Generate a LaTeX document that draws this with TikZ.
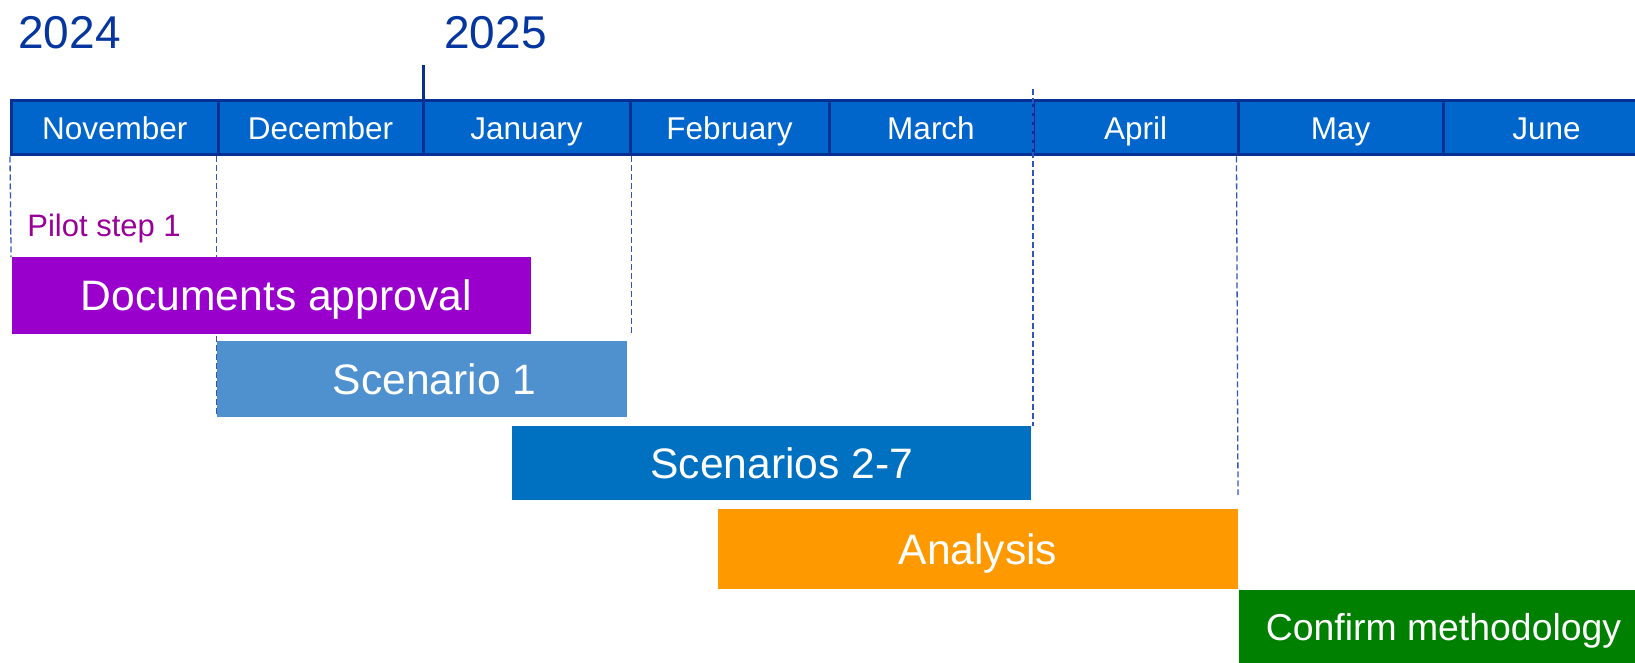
\documentclass[tikz,border=0pt]{standalone}
\usepackage{fontspec}
\setmainfont{Liberation Sans}
\definecolor{navy}{HTML}{063192}
\definecolor{yearblue}{HTML}{0536A0}
\definecolor{mfill}{HTML}{0066CC}
\definecolor{dashblue}{HTML}{3355BB}
\definecolor{docpurple}{HTML}{9900CC}
\definecolor{scone}{HTML}{4F91CF}
\definecolor{sctwo}{HTML}{0070C0}
\definecolor{anorange}{HTML}{FF9900}
\definecolor{cmgreen}{HTML}{008000}
\definecolor{pilotcol}{HTML}{990099}
\begin{document}
\begin{tikzpicture}[x=0.5pt,y=-0.5pt,
  month/.style={draw=navy, line width=1.5pt, fill=mfill, text=white,
    font=\fontsize{15.75}{18}\selectfont, minimum height=27pt, inner sep=0pt,
    text height=11.3pt, text depth=0pt},
  bar/.style={text=white, inner sep=0pt, font=\fontsize{21.3}{25}\selectfont,
    text height=15.2pt, text depth=0pt},
  yearlabel/.style={text=yearblue, inner sep=0pt, font=\fontsize{23}{27}\selectfont},
  dashline/.style={draw=dashblue, line width=0.65pt, dash pattern=on 3pt off 1.5pt},
]
\useasboundingbox (0,0) rectangle (1635,663);

% years
\node[yearlabel, anchor=base west] (y2024) at (18,49) {2024};
\node[yearlabel, anchor=base west] (y2025) at (444,49) {2025};

% months
\node[month, minimum width=103.25pt] (nov) at (114.75,128) {November};
\node[month, minimum width=102.5pt] (dec) at (320.5,128) {December};
\node[month, minimum width=103.5pt] (jan) at (526.5,128) {January};
\node[month, minimum width=99.5pt] (feb) at (729.5,128) {February};
\node[month, minimum width=102pt] (mar) at (931,128) {March};
\node[month, minimum width=102.5pt] (apr) at (1135.5,128) {April};
\node[month, minimum width=102.5pt] (may) at (1340.5,128) {May};
\node[month, minimum width=103.5pt] (jun) at (1546.5,128) {June};

% year tick
\coordinate (yeartick) at (423,65);
\draw[navy, line width=1.5pt] (yeartick) -- (yeartick |- jan.north);

% pilot label
\node[text=pilotcol, inner sep=0pt, font=\fontsize{15.5}{18}\selectfont, anchor=base west] (pilot) at (27,237) {Pilot step 1};

% guide coordinates
\coordinate (aprtop) at (1033,89);
\coordinate (mayend) at (1238,495);

% bar placeholders for guide lines
\path (271.25,295.75) node[bar, minimum width=259.75pt, minimum height=38.25pt] (docs) {};
\path (422,379) node[bar, minimum width=205pt, minimum height=38pt] (sc1) {};
\path (771.5,463) node[bar, minimum width=259.5pt, minimum height=37pt] (sc27) {};

% dashed guide lines
\draw[dashline] (nov.south west) -- (docs.north west);
\draw[dashline] (dec.south west) -- (dec.south west |- sc1.south);
\draw[dashline] (jan.south east) -- (jan.south east |- docs.south);
\draw[dashline] (aprtop) -- (aprtop |- sc27.north);
\draw[dashline] (may.south west) -- (mayend);

% bars
\node[bar, fill=docpurple, minimum width=259.75pt, minimum height=38.25pt] (docsbar) at (docs) {\hspace*{5pt}Documents approval};
\node[bar, fill=scone, minimum width=205pt, minimum height=38pt] (sc1bar) at (sc1) {\hspace*{12.5pt}Scenario 1};
\node[bar, fill=sctwo, minimum width=259.5pt, minimum height=37pt] (sc27bar) at (sc27) {\hspace*{10.5pt}Scenarios 2-7};
\node[bar, fill=anorange, minimum width=260pt, minimum height=40pt] (analysis) at (978,549) {Analysis};
\node[bar, fill=cmgreen, minimum width=200.5pt, minimum height=37.5pt, font=\fontsize{18.7}{22}\selectfont, text height=13.4pt] (confirm) at (1439.5,627.5) {\hspace*{4pt}Confirm methodology};
\end{tikzpicture}
\end{document}
